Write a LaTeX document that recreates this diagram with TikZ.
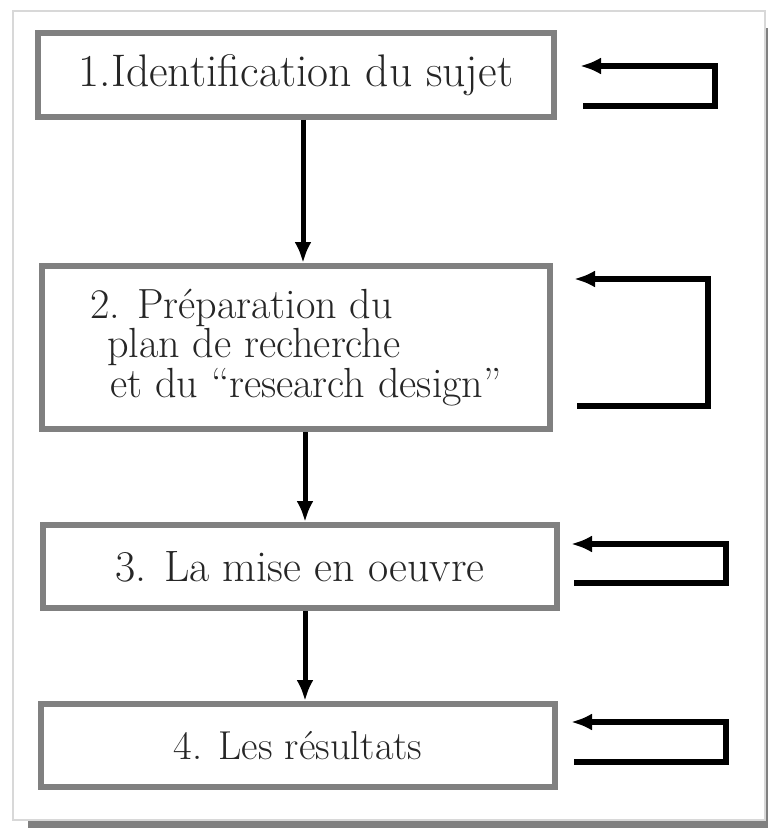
\documentclass[tikz,border=0pt]{standalone}
\usepackage{fontspec}
\usetikzlibrary{arrows.meta}
\newlength{\px}
\setlength{\px}{0.02cm}
\definecolor{boxgray}{HTML}{808080}
\definecolor{framegray}{HTML}{D8D8D8}
\tikzset{stage/.style = {shape=rectangle,draw=boxgray,line width=6\px,fill=white,
    font=\fontsize{25}{20.5}\selectfont,text=black!85}}
\tikzset{flow/.style = {-{Latex[length=4.2mm,width=3.4mm]},line width=5\px}}
\tikzset{loopback/.style = {flow,line width=5.5\px}}

\begin{document}
\begin{tikzpicture}[x=\px,y=-\px]
        \useasboundingbox (0,0) rectangle (768,828);
        % page frame with its shadow
        \fill[boxgray] (28,28) rectangle (768,828);
        \draw[framegray,fill=white,line width=2\px] (13,11) rectangle (765,820);
        \node[stage,minimum width=516\px,minimum height=84\px,font=\fontsize{26}{20.5}\selectfont] (identif) at (296,75) {1.Identification du sujet};
        \node[stage,minimum width=508\px,minimum height=163\px,align=left,font=\fontsize{24}{20.5}\selectfont] (plan) at (296,347.5)
            {2. Préparation du\\\hspace*{0.4em}plan de recherche\\\hspace*{0.48em}et du “research design”};
        \coordinate (d1) at ([xshift=7\px]identif.south);
        \draw[flow] (d1) -- (d1 |- plan.north);
        \node[stage,minimum width=514\px,minimum height=83\px] (oeuvre) at (300,566.5) {3. La mise en oeuvre};
        \coordinate (d2) at ([xshift=9\px]plan.south);
        \draw[flow] (d2) -- (d2 |- oeuvre.north);
        \node[stage,minimum width=514\px,minimum height=83\px,font=\fontsize{23}{20.5}\selectfont] (result) at (298,745.5) {4. Les résultats};
        \coordinate (d3) at ([xshift=5\px]oeuvre.south);
        \draw[flow] (d3) -- (d3 |- result.north);
        % loops back on each stage
        \coordinate (s1) at (583,106);
        \coordinate (c1) at (715,66);
        \coordinate (e1) at (580,66);
        \draw[loopback] (s1) -| (c1) -- (e1);
        \coordinate (s2) at (577,406);
        \coordinate (c2) at (708,279);
        \coordinate (e2) at (574,279);
        \draw[loopback] (s2) -| (c2) -- (e2);
        \coordinate (s3) at (574,583);
        \coordinate (c3) at (726,544);
        \coordinate (e3) at (571,544);
        \draw[loopback] (s3) -| (c3) -- (e3);
        \coordinate (s4) at (574,762);
        \coordinate (c4) at (726,722);
        \coordinate (e4) at (571,722);
        \draw[loopback] (s4) -| (c4) -- (e4);
    \end{tikzpicture}
\end{document}
